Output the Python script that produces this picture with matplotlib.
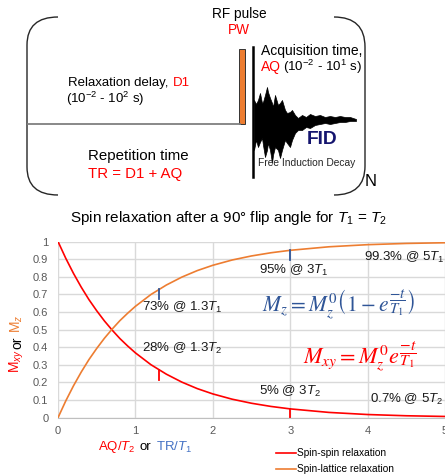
import numpy as np
import matplotlib
matplotlib.use('Agg')
import matplotlib.pyplot as plt
from matplotlib.path import Path
from matplotlib.patches import PathPatch, Rectangle

plt.rcParams['font.family'] = ['Liberation Sans', 'DejaVu Sans']
plt.rcParams['mathtext.fontset'] = 'custom'
plt.rcParams['mathtext.rm'] = 'Liberation Sans'
plt.rcParams['mathtext.it'] = 'Liberation Sans:italic'
plt.rcParams['mathtext.bf'] = 'Liberation Sans:bold'

# ---- data ----
t = [0, 0.1, 0.2, 0.3, 0.4, 0.5, 0.6, 0.7, 0.8, 0.9, 1.0, 1.2, 1.4, 1.6, 1.8,
     2.0, 2.25, 2.5, 2.75, 3.0, 3.5, 4.0, 4.5, 5.0]
m_xy = [1.0, 0.905, 0.819, 0.741, 0.670, 0.607, 0.549, 0.497, 0.449, 0.407, 0.368,
        0.301, 0.247, 0.202, 0.165, 0.135, 0.105, 0.082, 0.064, 0.050, 0.030,
        0.018, 0.011, 0.007]
m_z = [0.0, 0.095, 0.181, 0.259, 0.330, 0.393, 0.451, 0.503, 0.551, 0.593, 0.632,
       0.699, 0.753, 0.798, 0.835, 0.865, 0.895, 0.918, 0.936, 0.950, 0.970,
       0.982, 0.989, 0.993]

mark_t = [1.3, 3.0]
mark_z = [0.73, 0.95]
mark_xy = [0.27, 0.05]

ann_mz = ['73% @ 1.3$T_1$', '95% @ 3$T_1$', '99.3% @ 5$T_1$']
ann_mz_pos = [(1.08, 0.628), (2.60, 0.834), (3.95, 0.91)]
ann_mxy = ['28% @ 1.3$T_2$', '5% @ 3$T_2$', '0.7% @ 5$T_2$']
ann_mxy_pos = [(1.08, 0.394), (2.60, 0.148), (4.03, 0.104)]

# FID outline (diagram pixel coords)
fid_x = [254, 256, 258, 260, 262, 263, 265, 267, 268, 270, 272, 273, 275, 278, 280,
         282, 285, 287, 290, 292, 295, 298, 302, 306, 310, 315, 320, 325, 330, 335,
         340, 345, 350, 356]
fid_top = [100, 104, 100, 93, 103, 102, 95, 87, 92, 98, 103, 107, 95, 105, 103,
           100, 110, 113, 112, 110, 115, 118, 115, 117, 114, 116, 115, 117, 116, 117,
           116, 117, 117, 119]
fid_bot = [150, 140, 147, 142, 138, 145, 157, 150, 143, 150, 163, 155, 147, 150, 158,
           150, 140, 143, 147, 140, 133, 130, 130, 127, 128, 125, 124, 123, 124, 123,
           122, 122, 121, 121]

RED = '#FF0000'
ORANGE = '#ED7D31'
BLUE = '#2F5597'
LBLUE = '#4472C4'

fig = plt.figure(figsize=(4.45, 4.75), dpi=100)

# ---- pulse sequence diagram (pixel coordinates) ----
ax0 = fig.add_axes([0, 275 / 475, 1, 200 / 475])
ax0.set_xlim(0, 445)
ax0.set_ylim(200, 0)
ax0.axis('off')

left = Path([(58, 17), (27, 17), (27, 45), (27, 167), (27, 195), (58, 195)],
            [Path.MOVETO, Path.CURVE3, Path.CURVE3, Path.LINETO, Path.CURVE3, Path.CURVE3])
right = Path([(334, 17), (365, 17), (365, 47), (365, 166), (365, 195), (334, 195)],
             [Path.MOVETO, Path.CURVE3, Path.CURVE3, Path.LINETO, Path.CURVE3, Path.CURVE3])
for p in (left, right):
    ax0.add_patch(PathPatch(p, fill=False, lw=1.0, color='#262626'))

ax0.plot([28, 240], [124, 124], color='#7F7F7F', lw=1.3)
ax0.add_patch(Rectangle((238.5, 49), 6.5, 75, facecolor=ORANGE, edgecolor='#333333', lw=0.7))
ax0.plot([253, 253], [47, 177], color='black', lw=1.8)
ax0.fill_between(fid_x, fid_top, fid_bot, color='black', lw=0.5)

ax0.text(239, 14, 'RF pulse', ha='center', va='center', fontsize=9.8)
ax0.text(239, 30, 'PW', ha='center', va='center', fontsize=9.8, color=RED)
ax0.text(261, 51, 'Acquisition time,', ha='left', va='center', fontsize=10)
ax0.text(261, 67, 'AQ', ha='left', va='center', fontsize=10, color=RED)
ax0.text(283, 67, '(10$^{-2}$ - 10$^{1}$ s)', ha='left', va='center', fontsize=9.6)
ax0.text(68, 83, 'Relaxation delay, ', ha='left', va='center', fontsize=9.5)
ax0.text(173, 83, 'D1', ha='left', va='center', fontsize=9.5, color=RED)
ax0.text(66, 99, '(10$^{-2}$ - 10$^{2}$ s)', ha='left', va='center', fontsize=9.5)
ax0.text(88, 156, 'Repetition time', ha='left', va='center', fontsize=10.8)
ax0.text(88, 174, 'TR = D1 + AQ', ha='left', va='center', fontsize=10.8, color=RED)
ax0.text(307, 140, 'FID', ha='left', va='center', fontsize=13.8, fontweight='bold', color='#14146E')
ax0.text(258, 163, 'Free Induction Decay', ha='left', va='center', fontsize=7.4, color='#262626')
ax0.text(365, 182, 'N', ha='left', va='center', fontsize=12)

# ---- relaxation chart ----
fig.text(228 / 445, 1 - 218 / 475,
         'Spin relaxation after a 90° flip angle for $T_1$ = $T_2$',
         ha='center', va='center', fontsize=11)

ax = fig.add_axes([58 / 445, 57.3 / 475, 387 / 445, 176.2 / 475])
ax.set_xlim(0, 5)
ax.set_ylim(0, 1)
ax.set_xticks(range(6))
ax.set_yticks(np.arange(0, 1.01, 0.1))
ax.yaxis.set_major_formatter(matplotlib.ticker.FormatStrFormatter('%g'))
ax.grid(color='#D9D9D9', lw=1.0)
ax.set_axisbelow(True)
for s in ('top', 'right', 'left'):
    ax.spines[s].set_visible(False)
ax.spines['bottom'].set_color('#BFBFBF')
ax.tick_params(length=0, labelsize=8, labelcolor='#595959')
ax.tick_params(axis='y', pad=7)
ax.tick_params(axis='x', pad=6)

l1, = ax.plot(t, m_xy, color=RED, lw=1.2, label='Spin-spin relaxation')
l2, = ax.plot(t, m_z, color=ORANGE, lw=1.2, label='Spin-lattice relaxation')

for x, v in zip(mark_t, mark_z):
    ax.plot([x, x], [v, v - 0.055], color=BLUE, lw=1.3)
for x, v in zip(mark_t, mark_xy):
    ax.plot([x, x], [v, max(v - 0.055, 0)], color=RED, lw=1.3)

for s, (x, y) in zip(ann_mz + ann_mxy, ann_mz_pos + ann_mxy_pos):
    ax.text(x, y, s, ha='left', va='center', fontsize=9.5, color='#1A1A1A')

ax.text(2.63, 0.60, r'$M_z = M_z^0\left(1 - e^{\dfrac{-t}{T_1}}\right)$',
        math_fontfamily='stix', fontsize=15.5, color=BLUE, ha='left', va='baseline')
ax.text(3.17, 0.30, r'$M_{xy} = M_z^0 e^{\dfrac{-t}{T_1}}$',
        math_fontfamily='stix', fontsize=16, color=RED, ha='left', va='baseline')

# y label in three colours
fig.text(17 / 445, 1 - 373 / 475, '$\\mathregular{M}_{xy}$', rotation=90, color=RED,
         ha='center', va='bottom', fontsize=10)
fig.text(17 / 445, 1 - 349 / 475, 'or', rotation=90, color='black',
         ha='center', va='bottom', fontsize=10)
fig.text(17 / 445, 1 - 333 / 475, '$\\mathregular{M}_{z}$', rotation=90, color=ORANGE,
         ha='center', va='bottom', fontsize=10)

# x label in three colours
fig.text(98 / 445, 1 - 447 / 475, 'AQ/$T_2$', color=RED, ha='left', va='center', fontsize=9.5)
fig.text(139 / 445, 1 - 447 / 475, 'or', color='black', ha='left', va='center', fontsize=9.5)
fig.text(156 / 445, 1 - 447 / 475, 'TR/$T_1$', color=LBLUE, ha='left', va='center', fontsize=9.5)

fig.legend(handles=[l1, l2], loc='upper left', bbox_to_anchor=(271 / 445, 1 - 443 / 475),
           frameon=False, fontsize=7.3, handlelength=2.0, handletextpad=0.05,
           labelspacing=0.6, borderpad=0)

fig.savefig('out.png', dpi=100)
